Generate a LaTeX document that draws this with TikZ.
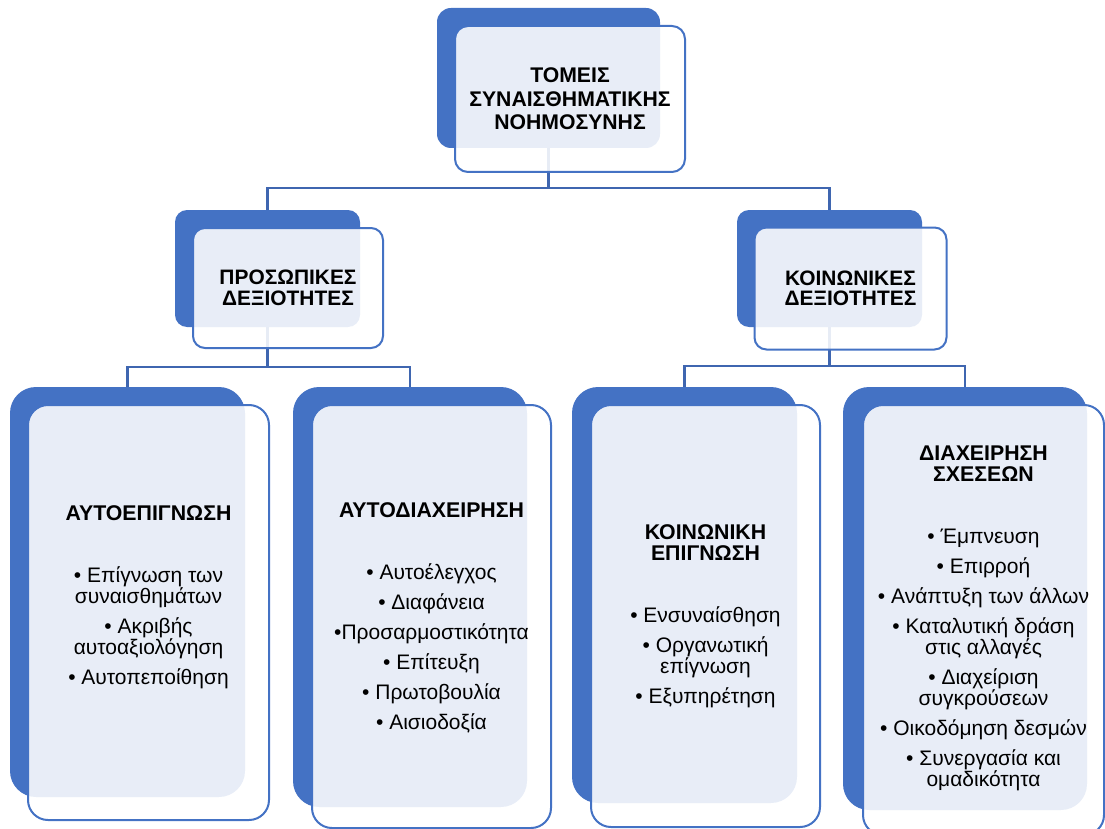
\documentclass[tikz,border=0pt]{standalone}
\usepackage{fontspec}
\setmainfont{Liberation Sans}
\definecolor{accent}{HTML}{4472C4}
\definecolor{conncol}{HTML}{3F66B0}
\newcommand{\hdfont}{\bfseries\fontsize{21.3}{21}\selectfont}
\tikzset{
  backbox/.style={fill=accent, draw=none, inner sep=0pt, outer sep=0pt, rounded corners=#1},
  frontbox/.style={fill=white, fill opacity=0.88, draw=accent, line width=2pt, inner sep=0pt, outer sep=0pt, rounded corners=#1},
  conn/.style={draw=conncol, line width=2.5pt},
  toptxt/.style={align=center, inner sep=0pt, font=\bfseries\fontsize{21.2}{23.5}\selectfont},
  midtxt/.style={align=center, inner sep=0pt, font=\bfseries\fontsize{20.9}{20.5}\selectfont},
  lowtxt/.style={align=center, inner sep=0pt, anchor=north, font=\fontsize{21}{21}\selectfont}
}
\begin{document}
\begin{tikzpicture}[x=1pt, y=-1pt]
\useasboundingbox (0,0) rectangle (1105,829);
\clip (0,0) rectangle (1105,829);
% back shapes
\node[backbox=14pt, minimum width=223pt, minimum height=140pt] (tb) at (548.5,78) {};
\node[backbox=12pt, minimum width=185pt, minimum height=117pt] (pb) at (267.5,268.5) {};
\node[backbox=12pt, minimum width=185pt, minimum height=117pt] (sb) at (829.5,268.5) {};
\node[backbox=26pt, minimum width=235pt, minimum height=410pt] (b1) at (127.5,592) {};
\node[backbox=26pt, minimum width=234pt, minimum height=420pt] (b2) at (410,597) {};
\node[backbox=26pt, minimum width=225pt, minimum height=416pt] (b3) at (684.5,595) {};
\node[backbox=26pt, minimum width=244pt, minimum height=423pt] (b4) at (965,598.5) {};
% connectors
\coordinate (j0) at (548.5,188);
\coordinate (j1) at (267.5,367);
\coordinate (j2) at (829.5,366);
\draw[conn] (tb.south) -- (j0);
\draw[conn] (j0) -| (pb.north);
\draw[conn] (j0) -| (sb.north);
\draw[conn] (pb.south) -- (j1);
\draw[conn] (j1) -| (b1.north);
\draw[conn] (j1) -| (b2.north);
\draw[conn] (sb.south) -- (j2);
\draw[conn] (j2) -| (b3.north);
\draw[conn] (j2) -| (b4.north);
% front shapes
\node[frontbox=13pt, minimum width=230pt, minimum height=146pt] (tf) at (570,99) {};
\node[frontbox=12pt, minimum width=190pt, minimum height=120pt] (pf) at (288,288) {};
\node[frontbox=12pt, minimum width=192pt, minimum height=122pt] (sf) at (850.5,288.5) {};
\node[frontbox=20pt, minimum width=241pt, minimum height=415pt] (f1) at (148.5,612.5) {};
\node[frontbox=20pt, minimum width=239pt, minimum height=423pt] (f2) at (431.5,616.5) {};
\node[frontbox=20pt, minimum width=229pt, minimum height=422pt] (f3) at (705.5,616) {};
\node[frontbox=20pt, minimum width=241pt, minimum height=430pt] (f4) at (983.5,620) {};
% texts
\node[toptxt] (tt) at (tf.center) {ΤΟΜΕΙΣ\\ΣΥΝΑΙΣΘΗΜΑΤΙΚΗΣ\\ΝΟΗΜΟΣΥΝΗΣ};
\node[midtxt] (pt) at (pf.center) {ΠΡΟΣΩΠΙΚΕΣ\\ΔΕΞΙΟΤΗΤΕΣ};
\node[midtxt] (st) at (sf.center) {ΚΟΙΝΩΝΙΚΕΣ\\ΔΕΞΙΟΤΗΤΕΣ};
\node[lowtxt] (t1) at (148.5,505.3) {{\hdfont ΑΥΤΟΕΠΙΓΝΩΣΗ}\\[41pt]
  • Επίγνωση των\\ συναισθημάτων\\[9pt]
  • Ακριβής\\ αυτοαξιολόγηση\\[9pt]
  • Αυτοπεποίθηση};
\node[lowtxt] (t2) at (431.5,502.3) {{\hdfont ΑΥΤΟΔΙΑΧΕΙΡΗΣΗ}\\[41pt]
  • Αυτοέλεγχος\\[9pt]
  • Διαφάνεια\\[9pt]
  •Προσαρμοστικότητα\\[9pt]
  • Επίτευξη\\[9pt]
  • Πρωτοβουλία\\[9pt]
  • Αισιοδοξία};
\node[lowtxt] (t3) at (705.5,524.3) {{\hdfont ΚΟΙΝΩΝΙΚΗ}\\{\hdfont ΕΠΙΓΝΩΣΗ}\\[41pt]
  • Ενσυναίσθηση\\[9pt]
  • Οργανωτική\\ επίγνωση\\[9pt]
  • Εξυπηρέτηση};
\node[lowtxt] (t4) at (983.5,445.3) {{\hdfont ΔΙΑΧΕΙΡΗΣΗ}\\{\hdfont ΣΧΕΣΕΩΝ}\\[41pt]
  • Έμπνευση\\[9pt]
  • Επιρροή\\[9pt]
  • Ανάπτυξη των άλλων\\[9pt]
  • Καταλυτική δράση\\ στις αλλαγές\\[9pt]
  • Διαχείριση\\ συγκρούσεων\\[9pt]
  • Οικοδόμηση δεσμών\\[9pt]
  • Συνεργασία και\\ ομαδικότητα};
\end{tikzpicture}
\end{document}
